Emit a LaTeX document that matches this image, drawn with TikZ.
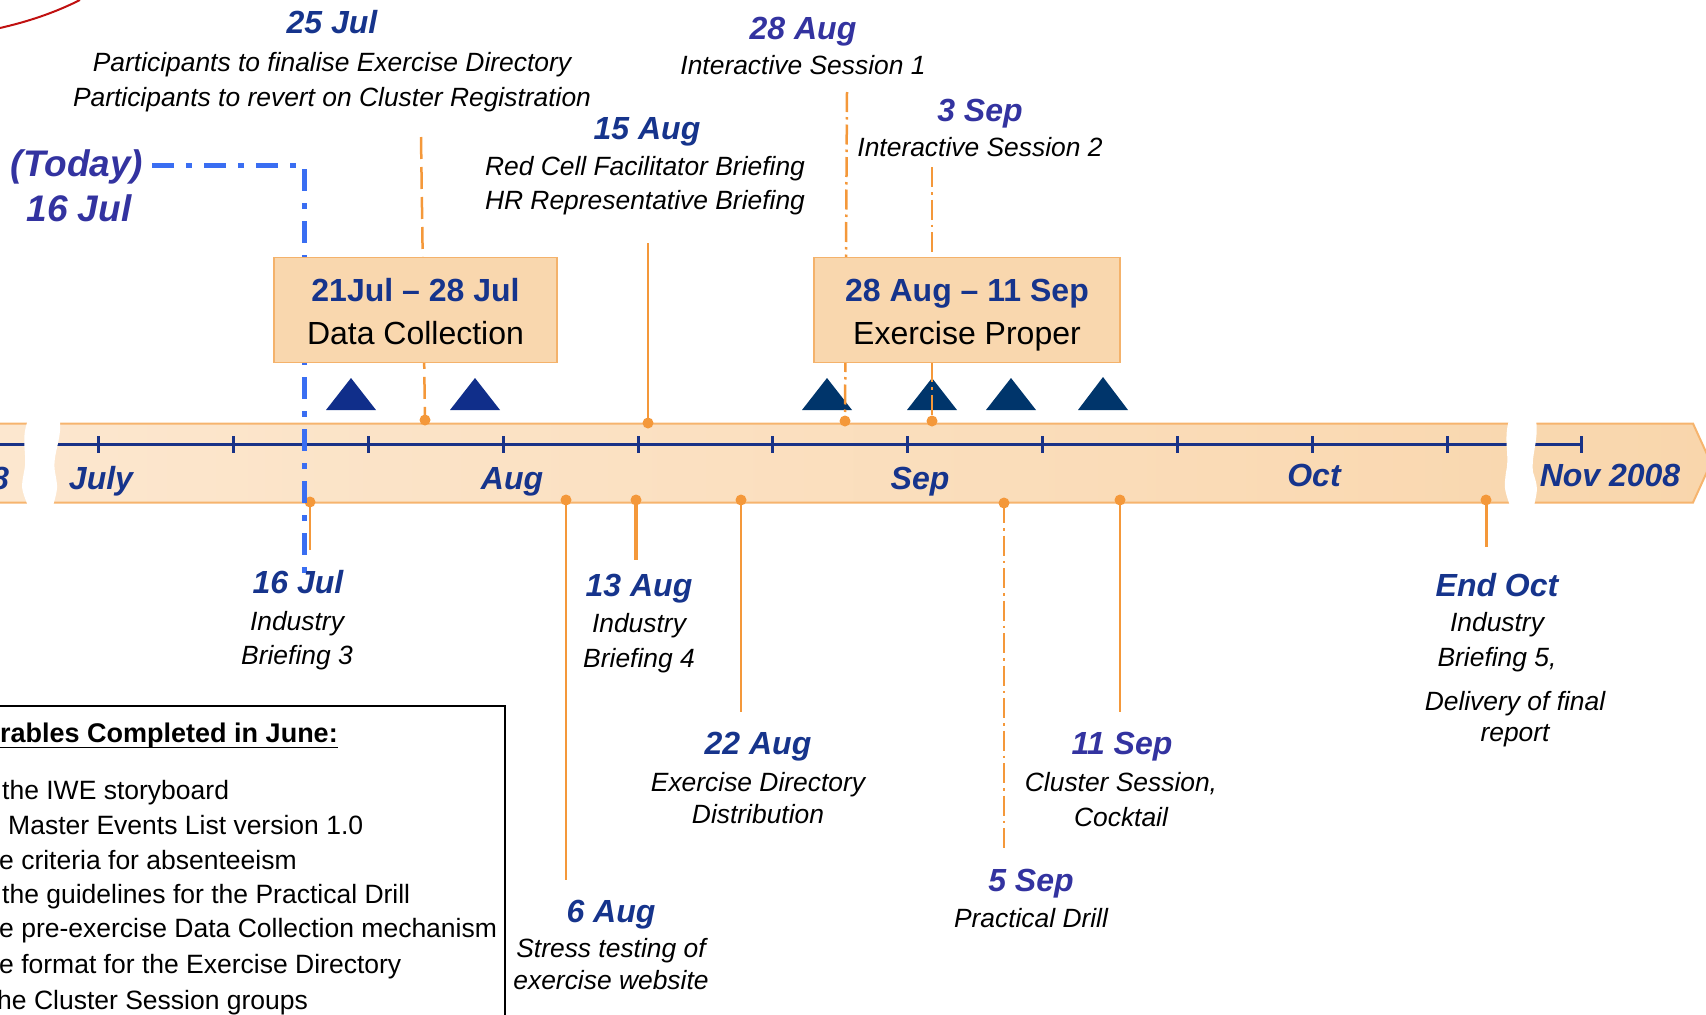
\documentclass[tikz,border=0pt]{standalone}
\usepackage{fontspec}
\setmainfont{Liberation Sans}
\definecolor{dnavy}{RGB}{22,52,140}
\definecolor{vblue}{RGB}{51,51,160}
\definecolor{orangeL}{RGB}{244,152,58}
\definecolor{bandL}{RGB}{252,231,207}
\definecolor{bandR}{RGB}{249,214,172}
\definecolor{bandE}{RGB}{246,180,110}
\definecolor{boxF}{RGB}{249,215,174}
\definecolor{boxE}{RGB}{244,178,107}
\definecolor{triA}{RGB}{16,46,138}
\definecolor{triB}{RGB}{0,53,107}
\definecolor{todayb}{RGB}{58,110,242}
\definecolor{axisc}{RGB}{25,50,135}
\definecolor{arcred}{RGB}{192,16,16}
\begin{document}
\begin{tikzpicture}[x=1pt,y=-1pt,
  date/.style={anchor=base,font=\fontsize{32}{36}\selectfont\bfseries\itshape,text=dnavy,inner sep=0pt},
  vdate/.style={date,text=vblue},
  desc/.style={anchor=base,font=\fontsize{26.4}{30}\selectfont\itshape,inner sep=0pt},
  axlab/.style={anchor=base,font=\fontsize{32}{36}\selectfont\bfseries\itshape,text=dnavy,inner sep=0pt},
  boxtitle/.style={anchor=base,font=\fontsize{32}{36}\selectfont\bfseries,text=dnavy,inner sep=0pt},
  boxtext/.style={anchor=base,font=\fontsize{32}{36}\selectfont,inner sep=0pt},
  item/.style={anchor=base west,font=\fontsize{26.5}{30}\selectfont,inner sep=0pt},
  pbox/.style={draw=boxE,fill=boxF,line width=1.5pt,inner sep=0pt},
  dot/.style={circle,fill=orangeL,inner sep=0pt,minimum size=11pt},
  conn/.style={draw=orangeL,line width=2.5pt},
  dashconn/.style={conn,dash pattern=on 22pt off 8pt},
  dotconn/.style={conn,dash pattern=on 20pt off 5pt on 2.5pt off 5pt},
  todayline/.style={draw=todayb,line width=5pt,dash pattern=on 22pt off 12pt on 6pt off 12pt},
  axisline/.style={draw=axisc,line width=3pt}
]
\useasboundingbox (0,0) rectangle (1706,1015);
\begin{scope}
\clip (0,0) rectangle (1706,1015);

% red arc
\draw[arcred,line width=2pt] (0,28) .. controls (35,20) and (60,10) .. (80,0);

% band
\shade[left color=bandL,right color=bandR] (-5,423.5) -- (1693,423.5) -- (1711,463) -- (1693,502.5) -- (-5,502.5) -- cycle;
\draw[bandE,line width=2pt] (-5,423.5) -- (1693,423.5) -- (1711,463) -- (1693,502.5) -- (-5,502.5);

% axis
\draw[axisline] (-5,444) -- (1581,444);
\foreach \x in {98,233,368,503,638,772,907,1042,1177,1312,1447,1581}
  \draw[axisline] (\x,436) -- (\x,453);

% breaks
\fill[white] (28,420) .. controls (20,440) and (28,455) .. (24,472) .. controls (21,488) .. (28,506)
  -- (53,506) .. controls (58,488) .. (55,472) .. controls (52,455) and (62,440) .. (60,420) -- cycle;
\fill[white] (1509,420) .. controls (1503,440) and (1510,455) .. (1506,472) .. controls (1504,488) .. (1510,506)
  -- (1534,506) .. controls (1538,488) .. (1533,472) .. controls (1531,455) and (1539,440) .. (1536,420) -- cycle;

% axis labels
\node[axlab,anchor=base east] (lJun) at (9,489.5) {8};
\node[axlab] (lJul) at (101,489.5) {July};
\node[axlab] (lAug) at (512,489.5) {Aug};
\node[axlab] (lSep) at (920,489.5) {Sep};
\node[axlab] (lOct) at (1314,486.5) {Oct};
\node[axlab] (lNov) at (1610,486.5) {Nov 2008};

% triangles
\fill[triA] (326,410) -- (351,378) -- (376,410) -- cycle;
\fill[triA] (450,410) -- (475,378) -- (500,410) -- cycle;
\fill[triB] (802,410) -- (827,378) -- (852,410) -- cycle;
\fill[triB] (907,410) -- (932,378) -- (957,410) -- cycle;
\fill[triB] (986,410) -- (1011,378) -- (1036,410) -- cycle;
\fill[triB] (1078,410) -- (1103,377) -- (1128,410) -- cycle;

% dots
\node[dot] (d25) at (425,420) {};
\node[dot] (d15) at (648,423) {};
\node[dot] (d28) at (845,421) {};
\node[dot] (d03) at (932,421) {};
\node[dot] (d16) at (310,502) {};
\node[dot] (d06) at (566,500) {};
\node[dot] (d13) at (636,500) {};
\node[dot] (d22) at (741,500) {};
\node[dot] (d05) at (1004,503) {};
\node[dot] (d11) at (1120,500) {};
\node[dot] (dEO) at (1486,500) {};

% free ends
\coordinate (t25) at (421,137);
\coordinate (t15) at (648,243);
\coordinate (t28) at (847,92);
\coordinate (t03) at (932,167);
\coordinate (b16) at (310,550);
\coordinate (b06) at (566,880);
\coordinate (b13) at (636,560);
\coordinate (b22) at (741,712);
\coordinate (b05) at (1004,850);
\coordinate (b11) at (1120,712);
\coordinate (bEO) at (1486,547);

% connectors
\draw[dashconn] (t25) -- (d25.center);
\draw[conn] (t15) -- (d15.center);
\draw[dotconn] (t28) -- (d28.center);
\draw[dotconn] (t03) -- (d03.center);
\draw[conn,line width=2pt] (d16.center) -- (b16);
\draw[conn] (d06.center) -- (b06);
\draw[conn,line width=4pt] (d13.center) -- (b13);
\draw[conn] (d22.center) -- (b22);
\draw[dotconn] (d05.center) -- (b05);
\draw[conn] (d11.center) -- (b11);
\draw[conn,line width=3pt] (dEO.center) -- (bEO);

% today line
\coordinate (tA) at (152,165);
\coordinate (tB) at (304,165);
\coordinate (tC) at (304,573);
\draw[todayline] (tA) -- (tB) -- (tC);

% phase boxes
\node[pbox,minimum width=283pt,minimum height=105pt] (dc) at (415.5,310) {};
\node[boxtitle] (dcT) at (dc.center |- 0,301.5) {21Jul -- 28 Jul};
\node[boxtext] (dcS) at (dc.center |- 0,344.5) {Data Collection};
\node[pbox,minimum width=306pt,minimum height=105pt] (ep) at (967,310) {};
\node[boxtitle] (epT) at (ep.center |- 0,301.5) {28 Aug -- 11 Sep};
\node[boxtext] (epS) at (ep.center |- 0,344.5) {Exercise Proper};

% top labels
\node[date] (n25) at (332,33.5) {25 Jul};
\node[desc] (n25a) at (332,71) {Participants to finalise Exercise Directory};
\node[desc] (n25b) at (332,106) {Participants to revert on Cluster Registration};
\node[vdate] (n28) at (803,39.5) {28 Aug};
\node[desc] (n28a) at (803,74) {Interactive Session 1};
\node[date] (n15) at (647,139.5) {15 Aug};
\node[desc] (n15a) at (645,175) {Red Cell Facilitator Briefing};
\node[desc] (n15b) at (645,209) {HR Representative Briefing};
\node[vdate] (n03) at (980,121.5) {3 Sep};
\node[desc] (n03a) at (980,156) {Interactive Session 2};
\node[vdate,font=\fontsize{37}{40}\selectfont\bfseries\itshape] (today) at (77,176) {(Today)};
\node[vdate,font=\fontsize{37}{40}\selectfont\bfseries\itshape] (today2) at (79,221) {16 Jul};

% bottom labels
\node[date] (n16) at (298,593.5) {16 Jul};
\node[desc] (n16a) at (297,630) {Industry};
\node[desc] (n16b) at (297,664) {Briefing 3};
\node[date] (n13) at (639,596.5) {13 Aug};
\node[desc] (n13a) at (639,632) {Industry};
\node[desc] (n13b) at (639,667) {Briefing 4};
\node[date] (n22) at (758,754.5) {22 Aug};
\node[desc] (n22a) at (758,791) {Exercise Directory};
\node[desc] (n22b) at (758,823) {Distribution};
\node[date] (n06) at (611,922.5) {6 Aug};
\node[desc] (n06a) at (611,957) {Stress testing of};
\node[desc] (n06b) at (611,989) {exercise website};
\node[vdate] (n05) at (1031,891.5) {5 Sep};
\node[desc] (n05a) at (1031,927) {Practical Drill};
\node[vdate] (n11) at (1122,754.5) {11 Sep};
\node[desc] (n11a) at (1121,791) {Cluster Session,};
\node[desc] (n11b) at (1121,826) {Cocktail};
\node[date] (nEO) at (1497,596.5) {End Oct};
\node[desc] (nEOa) at (1497,631) {Industry};
\node[desc] (nEOb) at (1497,666) {Briefing 5,};
\node[desc] (nEOc) at (1515,710) {Delivery of final};
\node[desc] (nEOd) at (1515,741) {report};

% deliverables box
\draw[line width=2pt] (-10,706) -- (505,706) -- (505,1025);
\node[item,font=\fontsize{27}{30}\selectfont\bfseries] (dh) at (0,742) {rables Completed in June:};
\coordinate (ul) at (0,747.5);
\draw[line width=1.8pt] (ul) -- (dh.base east |- ul);
\node[item] (i1) at (2,799) {the IWE storyboard};
\node[item] (i2) at (8,834) {Master Events List version 1.0};
\node[item] (i3) at (-1,869) {e criteria for absenteeism};
\node[item] (i4) at (2,903) {the guidelines for the Practical Drill};
\node[item] (i5) at (-1,937) {e pre-exercise Data Collection mechanism};
\node[item] (i6) at (-1,973) {e format for the Exercise Directory};
\node[item] (i7) at (-3,1009) {he Cluster Session groups};
\end{scope}
\end{tikzpicture}
\end{document}
